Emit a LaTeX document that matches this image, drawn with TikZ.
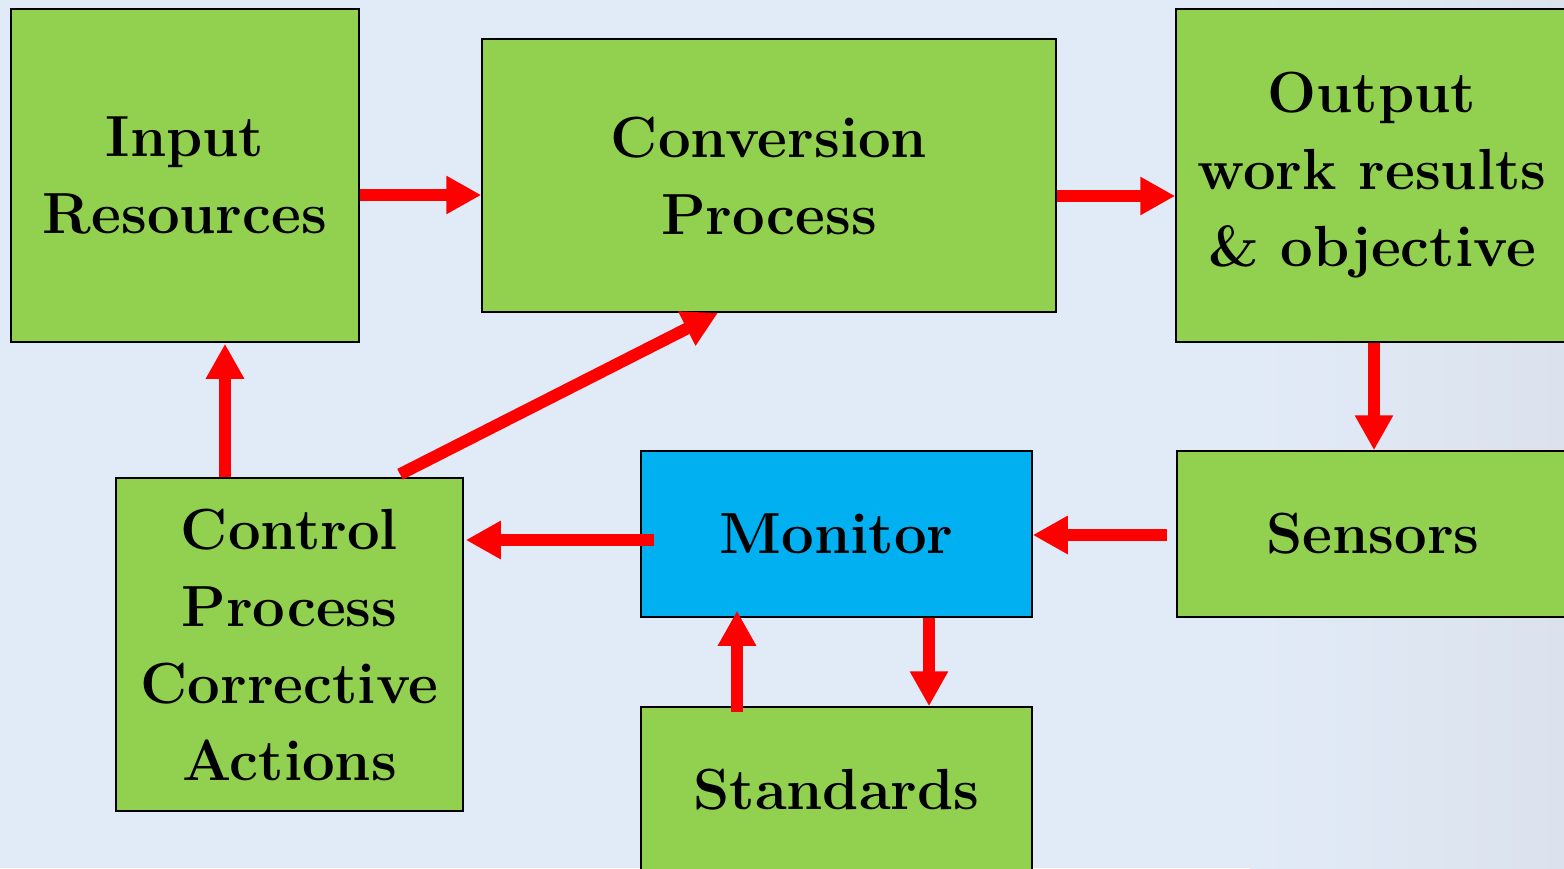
\documentclass[tikz,border=0pt]{standalone}
\usetikzlibrary{arrows.meta,calc}
\definecolor{bgblue}{RGB}{225,235,247}
\definecolor{bgedge}{RGB}{219,226,237}
\definecolor{boxgreen}{RGB}{146,208,80}
\definecolor{boxblue}{RGB}{0,176,240}
\begin{document}
\begin{tikzpicture}[x=1pt,y=-1pt,
  box/.style={draw=black,line width=1.5pt,fill=boxgreen,align=center,inner sep=0pt,
    font=\fontsize{58}{77}\selectfont\bfseries},
  flow/.style={draw=red,line width=12pt,-{Triangle[length=35pt,width=36pt]}}]
  \useasboundingbox (0,0) rectangle (1564,868);
  \clip (0,0) rectangle (1564,868);
  % page background, greying slightly towards the right edge
  \fill[bgblue] (0,0) rectangle (1564,868);
  \shade[left color=bgblue,right color=bgedge] (1250,0) rectangle (1564,868);

  % blocks
  \node[box,minimum width=348,minimum height=333] (input) at (185,175.5) {Input\\Resources};
  \node[box,minimum width=574,minimum height=273] (conv) at (769,175.5) {Conversion\\Process};
  \node[box,minimum width=392,minimum height=333] (output) at (1372,175.5) {Output\\work results\\\& objective};
  \node[box,minimum width=392,minimum height=166] (sens) at (1373,534) {Sensors};
  \node[box,fill=boxblue,minimum width=391,minimum height=166] (mon) at (836.5,534) {Monitor};
  \node[box,minimum width=347,minimum height=333] (ctrl) at (289.5,644.5) {Control\\Process\\Corrective\\Actions};
  \node[box,minimum width=391,minimum height=166] (std) at (836.5,790) {Standards};

  % forward flow
  \draw[flow] ($(input.east)+(0,19.5)$) -- ($(conv.west)+(0,19.5)$);
  \draw[flow] ($(conv.east)+(0,20.5)$) -- ($(output.west)+(0,20.5)$);
  \draw[flow] ($(output.south)+(2,0)$) -- ($(sens.north)+(1,0)$);

  % feedback loop
  \coordinate (s1) at ($(sens.west)+(-9,1)$);
  \draw[flow] (s1) -- (mon.east |- s1);
  \coordinate (m1) at ($(mon.west)+(14,6)$);
  \draw[flow] (m1) -- ($(ctrl.east |- m1)+(2,0)$);
  \coordinate (m2) at ($(mon.south)+(92.5,0)$);
  \draw[flow] (m2) -- (std.north -| m2);
  \draw[flow] ($(std.north)+(-99.5,6)$) -- ($(mon.south)+(-99.5,-7)$);
  \draw[flow] ($(ctrl.north)+(-64.5,0)$) -- ($(input.south)+(40,1)$);
  \draw[flow] ($(ctrl.north)+(110.5,-3)$) -- ($(conv.south)+(-51,0)$);
\end{tikzpicture}
\end{document}
